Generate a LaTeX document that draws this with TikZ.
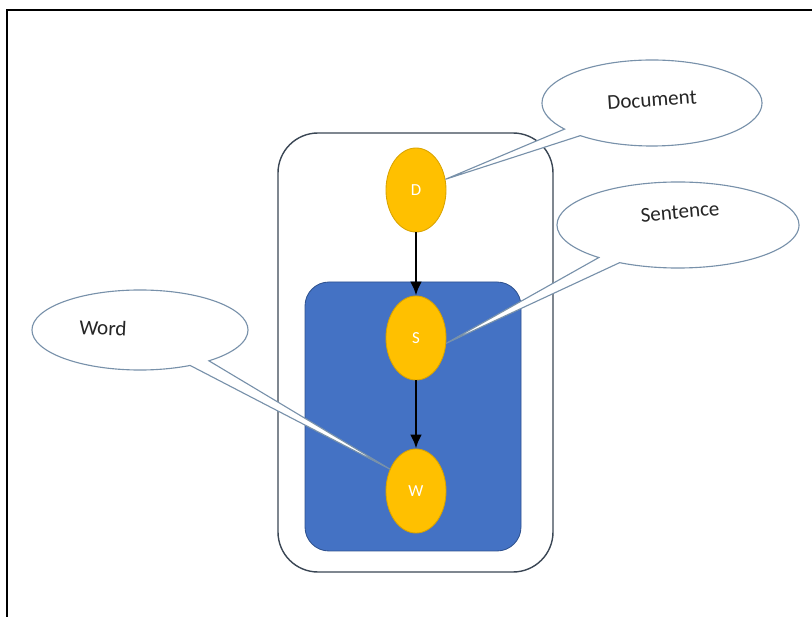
\documentclass[tikz,border=0pt]{standalone}
\usepackage{fontspec}
\setmainfont{Carlito}
\usetikzlibrary{arrows.meta,shapes.geometric,shapes.callouts}

\definecolor{varfill}{HTML}{FFC000}
\definecolor{varline}{HTML}{D9A300}
\definecolor{plateblue}{HTML}{4472C4}
\definecolor{plateline}{HTML}{2F528F}
\definecolor{outerline}{HTML}{3A4654}
\definecolor{noteline}{RGB}{120,145,170}

\tikzset{
  var/.style={ellipse, draw=varline, fill=varfill, line width=0.6pt,
    minimum width=1.5cm, minimum height=2.1cm, inner sep=0pt,
    text=white, font=\fontsize{12}{14}\selectfont},
  flow/.style={line width=2pt, -{Latex[length=3.5mm,width=3mm]}},
  note/.style={ellipse callout, draw=noteline, fill=white, line width=0.8pt,
    inner sep=0pt, callout pointer arc=12},
  notetext/.style={font=\fontsize{15}{18}\selectfont, text=black!85}
}

\begin{document}
\begin{tikzpicture}[x=0.025cm, y=-0.025cm]
    %---- canvas and frame
    \useasboundingbox (0,0) rectangle (812,617);
    \draw[line width=1.6pt] (7,617) -- (7,10) -- (812,10);

    %---- plates
    \draw[outerline, line width=1pt, rounded corners=1cm] (278,133) rectangle (553,572);
    \draw[plateline, fill=plateblue, line width=0.6pt, rounded corners=0.6cm] (305,282) rectangle (521,551);

    %---- variables
    \node[var] (D) at (416,190) {D};
    \node[var] (S) at (416,338) {S};
    \node[var] (W) at (416,491) {W};
    \draw[flow] (D) -- (S);
    \draw[flow] (S) -- (W);

    %---- callouts
    \node[note, minimum width=5.5cm, minimum height=2.15cm,
      callout absolute pointer={(D.20)}] (docnote) at (652,103) {};
    \node[note, minimum width=6.05cm, minimum height=2.15cm,
      callout absolute pointer={(S.-10)}] (sentnote) at (678,225) {};
    \node[note, minimum width=5.4cm, minimum height=2cm,
      callout absolute pointer={(W.140)}] (wordnote) at (140,330) {};

    \node[notetext, rotate=4] (doclabel) at (652,100) {Document};
    \node[notetext, rotate=5] (sentlabel) at (680,212) {Sentence};
    \node[notetext, rotate=-3] (wordlabel) at (103,328) {Word};
\end{tikzpicture}
\end{document}
